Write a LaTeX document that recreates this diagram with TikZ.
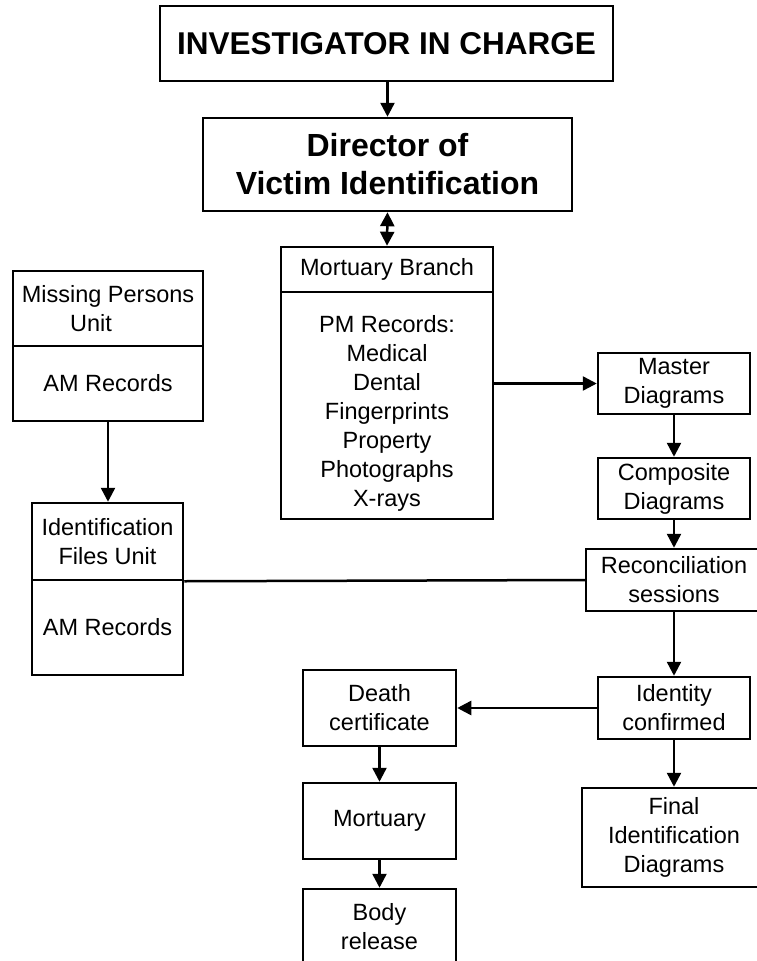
\documentclass[tikz,border=0pt]{standalone}
\usepackage{fontspec}
\setmainfont{Liberation Sans}
\usetikzlibrary{arrows.meta}
\begin{document}
\begin{tikzpicture}[x=1pt,y=-1pt,
  txt/.style={inner sep=0pt, align=center, font=\fontsize{23.5}{29}\selectfont},
  box/.style={txt, draw, line width=2.5pt, rectangle},
  bigbox/.style={box, font=\bfseries\fontsize{32}{38}\selectfont},
  tip/.tip={Triangle[length=14pt,width=14pt]},
  arr/.style={line width=2.5pt, -tip},
  link/.style={line width=2.5pt}]
\useasboundingbox (0,0) rectangle (757,961);
\clip (0,0) rectangle (757,961);

% command chain
\node[bigbox, font=\bfseries\fontsize{31.5}{38}\selectfont,
  minimum width=453pt, minimum height=75pt] (inv) at (386.5,43.5) {INVESTIGATOR IN CHARGE};
\node[bigbox, minimum width=369pt, minimum height=93pt] (dir) at (387.5,164.5)
  {Director of\\Victim Identification};

% mortuary branch (two-part box)
\node[box, minimum width=212pt, minimum height=45pt] (mbTop) at (387,269.5) {Mortuary Branch};
\node[box, minimum width=212pt, minimum height=227pt] (mbBot) at (387,405.5) {};
\node[txt] (pm) at (387,413)
  {PM Records:\\Medical\\Dental\\Fingerprints\\Property\\Photographs\\X-rays};

% right-hand column
\node[box, minimum width=152pt, minimum height=61pt] (master) at (674,383.5) {Master\\Diagrams};
\node[box, minimum width=152pt, minimum height=61pt] (comp) at (674,488.5) {Composite\\Diagrams};
\node[box, minimum width=176pt, minimum height=62pt] (recon) at (674,580) {Reconciliation\\sessions};
\node[box, minimum width=152pt, minimum height=62pt] (ident) at (674,708) {Identity\\confirmed};
\node[box, minimum width=184pt, minimum height=99pt] (final) at (674,837.5)
  {Final\\Identification\\Diagrams};

% release chain
\node[box, minimum width=153pt, minimum height=76pt] (death) at (379.5,708) {Death\\certificate};
\node[box, minimum width=153pt, minimum height=76pt] (mort) at (379.5,821) {Mortuary};
\node[box, minimum width=153pt, minimum height=76pt] (body) at (379.5,927) {Body\\release};

% left-hand units (two-part boxes)
\node[box, minimum width=190pt, minimum height=75pt] (mpTop) at (108,308.5)
  {Missing Persons\\\hspace*{-34pt}Unit};
\node[box, minimum width=190pt, minimum height=75pt] (mpBot) at (108,383.5) {AM Records};
\node[box, minimum width=151pt, minimum height=77pt] (ifuTop) at (107.5,541.5) {Identification\\Files Unit};
\node[box, minimum width=151pt, minimum height=95pt] (ifuBot) at (107.5,627.5) {AM Records};

% connectors
\draw[arr] (dir.north |- inv.south) -- (dir.north);
\draw[link, tip-tip] (dir.south) -- (mbTop.north);
\draw[arr] (mbBot.east |- master.west) -- (master.west);
\draw[arr] (master.south) -- (comp.north);
\draw[arr] (comp.south) -- (recon.north);
\draw[link] (ifuTop.south east) -- (recon.west);
\draw[arr] (recon.south) -- (ident.north);
\draw[arr] (ident.west) -- (death.east);
\draw[arr] (ident.south) -- (final.north);
\draw[arr] (death.south) -- (mort.north);
\draw[arr] (mort.south) -- (body.north);
\draw[arr] (mpBot.south) -- (mpBot.south |- ifuTop.north);
\end{tikzpicture}
\end{document}
